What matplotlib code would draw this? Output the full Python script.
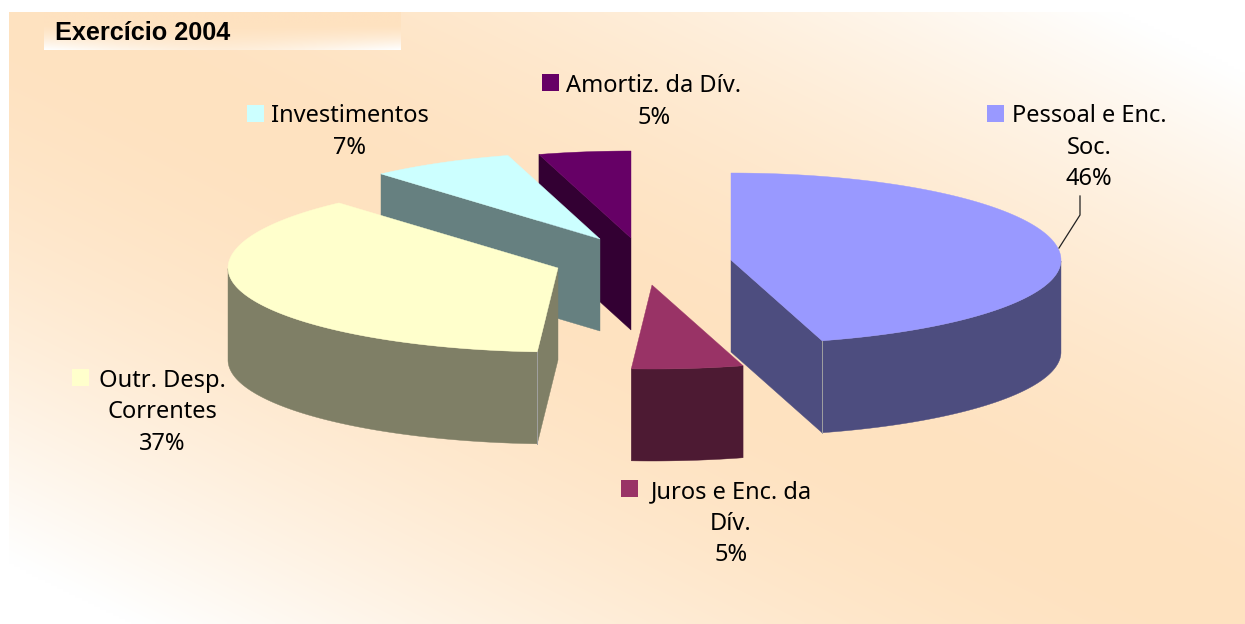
import numpy as np
import matplotlib
matplotlib.use("Agg")
import matplotlib.pyplot as plt
from matplotlib.patches import Rectangle

# ---- data ----
title = "Exercício 2004"
categories = ["Pessoal e Enc. Soc.", "Juros e Enc. da Dív.", "Outr. Desp. Correntes",
              "Investimentos", "Amortiz. da Dív."]
values = [45.55, 5.45, 37.45, 7.05, 4.5]
percent_labels = ["46%", "5%", "37%", "7%", "5%"]

# ---- style / layout ----
label_lines = [["Pessoal e Enc.", "Soc."], ["Juros e Enc. da", "Dív."], ["Outr. Desp.", "Correntes"],
               ["Investimentos"], ["Amortiz. da Dív."]]
top_colors = ["#9999FF", "#993366", "#FFFFCC", "#CCFFFF", "#660066"]
side_colors = ["#4D4D7F", "#4D1A33", "#7F7F66", "#668080", "#330033"]
apexes = [(731, 260), (652, 285), (558, 268), (600, 239), (631, 238)]
label_pos = [(1089, 113), (731, 489), (162, 378), (350, 113), (654, 83)]
key_pos = [(987, 105), (621, 480), (72, 369), (247, 105), (542, 74)]
draw_order = [4, 3, 2, 1, 0]
RX, RY_TOP, RY_BOTTOM, DEPTH = 330, 87, 84, 92
LINE_STEP = 31.5
PEACH = np.array([254, 226, 192]) / 255
FONT = "Noto Sans"

W, H = 1245, 624
fig = plt.figure(figsize=(W / 100, H / 100), dpi=100, facecolor="white")
ax = fig.add_axes([0, 0, 1, 1])
ax.set_xlim(0, W)
ax.set_ylim(H, 0)
ax.axis("off")

# background gradient: peach along the main diagonal, white at the other two corners
xx, yy = np.meshgrid(np.linspace(0, 1, 400), np.linspace(0, 1, 200))
t = np.clip(np.abs(xx - yy) / 0.9, 0, 1)[..., None] ** 1.7
ax.imshow(PEACH * (1 - t) + t, extent=(9, W, H, 12), aspect="auto", zorder=0, interpolation="bilinear")
ax.set_xlim(0, W)
ax.set_ylim(H, 0)

# title box
xx, yy = np.meshgrid(np.linspace(0, 1, 200), np.linspace(0, 1, 40))
t = np.clip((yy - 0.3) / 0.7, 0, 1) ** 1.6 * (0.4 + 0.6 * np.abs(2 * xx - 1) ** 1.5)
t = t[..., None]
ax.imshow(PEACH * (1 - t) + t, extent=(44, 401, 50, 12), aspect="auto", zorder=1, interpolation="bilinear")
ax.set_xlim(0, W)
ax.set_ylim(H, 0)
ax.text(55, 33.5, title, fontsize=18.2, fontweight="bold", family="Liberation Sans",
        ha="left", va="center", color="black", zorder=10)


def rim(cx, cy, deg):
    rad = np.radians(deg)
    s = np.sin(rad)
    ry = np.where(s >= 0, RY_TOP, RY_BOTTOM)
    return cx + RX * np.cos(rad), cy - ry * s


# slice angles: clockwise from 12 o'clock
fractions = np.array(values) / sum(values)
edges = 90 - 360 * np.concatenate([[0], np.cumsum(fractions)])

for z, i in enumerate(draw_order):
    a1, a2 = edges[i], edges[i + 1]
    cx, cy = apexes[i]
    base = 2 + z * 5
    deg = np.linspace(a1, a2, 200)
    x, y = rim(cx, cy, deg)
    side, top = side_colors[i], top_colors[i]

    # cut walls that face the viewer
    for ang, normal in ((a1, a1 + 90), (a2, a2 - 90)):
        if np.sin(np.radians(normal)) < -1e-6:
            ex, ey = rim(cx, cy, np.array([ang]))
            ax.fill([cx, ex[0], ex[0], cx], [cy, ey[0], ey[0] + DEPTH, cy + DEPTH],
                    color=side, lw=0.3, zorder=base)

    # outer wall: the lower half of the rim
    mask = np.sin(np.radians(deg)) <= 0
    if mask.any():
        wx, wy = x[mask], y[mask]
        ax.fill(np.r_[wx, wx[::-1]], np.r_[wy, wy[::-1] + DEPTH],
                color=side, lw=0.3, zorder=base + 1)
        if i in (0, 2):  # seam at the corner between wall faces
            k = -1 if i == 0 else 0
            ax.plot([wx[k], wx[k]], [wy[k], wy[k] + DEPTH], color="#A0A0A0", lw=0.7, zorder=base + 2)

    # top face
    ax.fill(np.r_[cx, x], np.r_[cy, y], color=top, lw=0.3, zorder=base + 3)

# leader line for the largest slice
ax.plot([1080, 1080, 1059], [196, 215, 248], color="#222222", lw=0.9, zorder=40)

# labels with keys
for i in range(len(values)):
    kx, ky = key_pos[i]
    ax.add_patch(Rectangle((kx, ky), 17, 17, facecolor=top_colors[i], edgecolor="none", zorder=41))
    lx, ly = label_pos[i]
    lines = label_lines[i] + [percent_labels[i]]
    for j, line in enumerate(lines):
        ax.text(lx, ly + j * LINE_STEP, line, fontsize=17, family=FONT, ha="center", va="center_baseline",
                color="black", zorder=42)

fig.savefig("out.png", dpi=100)
